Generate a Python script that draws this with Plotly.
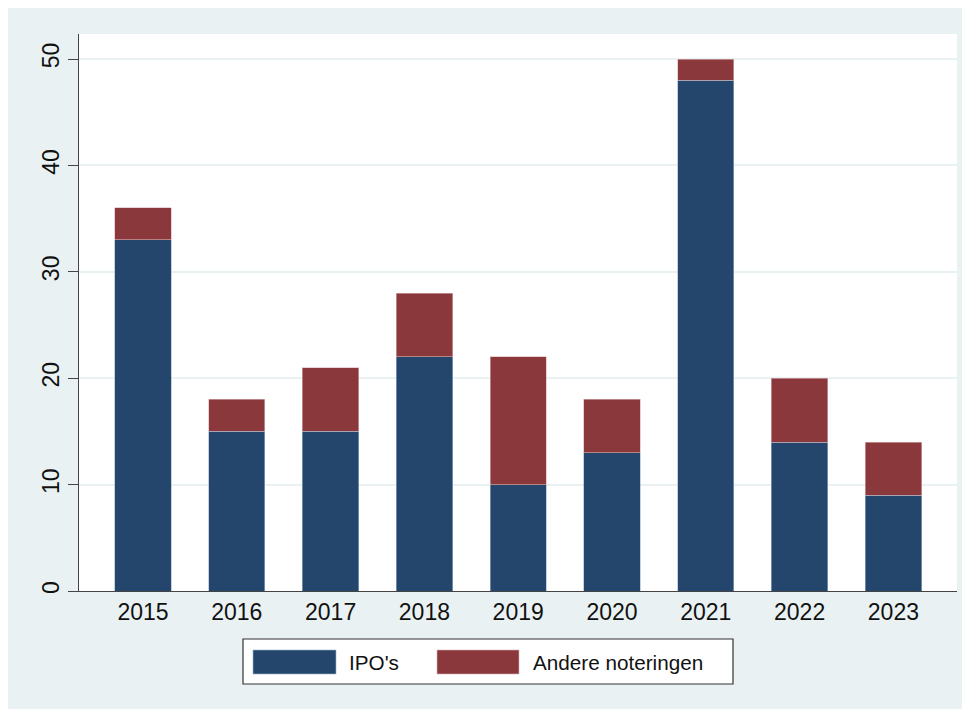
import plotly.graph_objects as go

years = ["2015", "2016", "2017", "2018", "2019", "2020", "2021", "2022", "2023"]
ipos = [33, 15, 15, 22, 10, 13, 48, 14, 9]
andere = [3, 3, 6, 6, 12, 5, 2, 6, 5]
series_names = ["IPO's", "Andere noteringen"]
y_ticks = [0, 10, 20, 30, 40, 50]

BLUE = "#24466c"
RED = "#8b383d"
BG = "#eaf1f3"
FONT = "Liberation Sans, Arial, Helvetica, sans-serif"

# page has an 8px body margin; figure coords = screen coords - 8
OFF = 8
W, H = 970 - OFF, 709 - OFF
L, R, T, B = 79 - OFF, 957 - OFF, 34 - OFF, 591 - OFF

def px(x):
    return (x - OFF - L) / (R - L)

def py(y):
    return (B - (y - OFF)) / (B - T)

fig = go.Figure()
fig.add_trace(go.Bar(x=years, y=ipos, name=series_names[0],
                     marker=dict(color=BLUE, line=dict(color="#9fb4cc", width=0.6)), width=0.6))
fig.add_trace(go.Bar(x=years, y=andere, name=series_names[1],
                     marker=dict(color=RED, line=dict(color="#d9b4b6", width=0.6)), width=0.6))

shapes = [
    # plot area
    dict(type="rect", xref="paper", yref="paper", x0=0, x1=1, y0=0, y1=1,
         fillcolor="white", line=dict(width=0), layer="below"),
    # legend box
    dict(type="rect", xref="paper", yref="paper", x0=px(243), x1=px(733), y0=py(684), y1=py(639),
         fillcolor="white", line=dict(color="#333333", width=1.2), layer="above"),
    dict(type="rect", xref="paper", yref="paper", x0=px(253), x1=px(336), y0=py(674), y1=py(650),
         fillcolor=BLUE, line=dict(color="#9fb4cc", width=0.6), layer="above"),
    dict(type="rect", xref="paper", yref="paper", x0=px(437), x1=px(519), y0=py(674), y1=py(650),
         fillcolor=RED, line=dict(color="#d9b4b6", width=0.6), layer="above"),
]

annotations = [
    dict(xref="paper", yref="paper", x=px(347), y=py(662), text=series_names[0], showarrow=False,
         xanchor="left", yanchor="middle", font=dict(family=FONT, size=20.7, color="#111111")),
    dict(xref="paper", yref="paper", x=px(531), y=py(662), text=series_names[1], showarrow=False,
         xanchor="left", yanchor="middle", font=dict(family=FONT, size=20.7, color="#111111")),
]

fig.update_layout(
    width=W, height=H,
    barmode="stack",
    showlegend=False,
    paper_bgcolor=BG,
    plot_bgcolor="white",
    margin=dict(l=L, r=W - R, t=T, b=H - B, pad=0),
    font=dict(family=FONT, size=23, color="#111111"),
    shapes=shapes,
    annotations=annotations,
    xaxis=dict(
        type="category",
        range=[-0.682, 8.678],
        showgrid=False,
        showline=True, linecolor="#444444", linewidth=1.3,
        ticks="", ticklabelstandoff=0,
        tickfont=dict(size=23, color="#111111"),
        zeroline=False, fixedrange=True,
    ),
    yaxis=dict(
        range=[0, 52.35],
        tickvals=y_ticks,
        ticktext=[str(v) for v in y_ticks],
        tickangle=-90,
        showgrid=True, gridcolor=BG, gridwidth=1.5,
        showline=True, linecolor="#444444", linewidth=1.3,
        ticks="outside", ticklen=10, tickwidth=1.3, tickcolor="#444444",
        tickfont=dict(size=23, color="#111111"),
        zeroline=False, fixedrange=True,
    ),
)

fig.write_html("out.html")
